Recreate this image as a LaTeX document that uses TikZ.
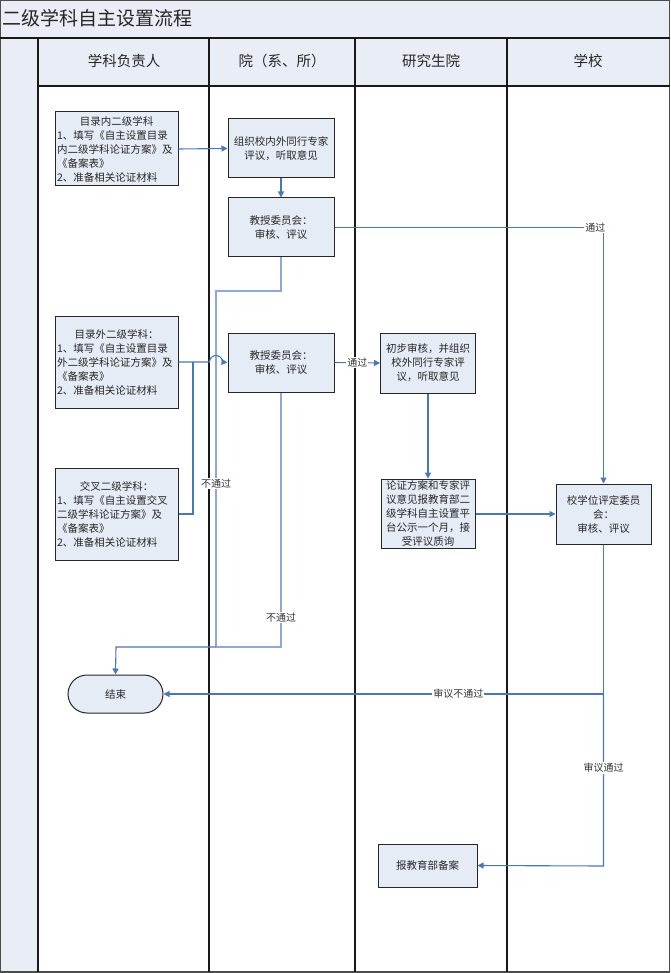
\documentclass[tikz,border=0pt]{standalone}
\usepackage{fontspec}
\newfontfamily\cjk{Noto Sans CJK SC}
\usetikzlibrary{arrows.meta}
\definecolor{boxfill}{HTML}{E6ECF6}
\definecolor{bandfill}{HTML}{E8EDF6}
\definecolor{conn}{HTML}{4A77B8}
\definecolor{connlight}{HTML}{8AAAD9}
\tikzset{
  pbox/.style={draw=black!85, fill=boxfill, line width=1pt, inner sep=2pt,
    font=\cjk\fontsize{10.5}{14}\selectfont, text=black!85, align=center},
  lbox/.style={pbox, align=left, text width=119pt},
  lanetext/.style={font=\cjk\fontsize{14.5}{16}\selectfont, text=black!85},
  lbl/.style={font=\cjk\fontsize{10}{12}\selectfont, fill=white, inner sep=1pt, text=black!80},
  cline/.style={draw=conn, line width=1.1pt},
  lline/.style={draw=connlight, line width=1.1pt},
  arr/.style={-{Triangle[length=6pt,width=6pt]}},
  laneline/.style={draw=black!90, line width=1.3pt}
}
\begin{document}
\begin{tikzpicture}[x=1pt,y=-1pt]
\useasboundingbox (0,0) rectangle (670,973);
% bands
\fill[bandfill] (0,0) rectangle (670,38);
\fill[bandfill] (0,38) rectangle (670,86);
\fill[bandfill] (0,86) rectangle (38,972);
\node[anchor=west, font=\cjk\fontsize{19}{22}\selectfont, text=black!85, inner sep=1pt] (title) at (1,18) {二级学科自主设置流程};
% frame
\draw[draw=black!70, line width=1.2pt] (0.6,0.6) rectangle (669.4,972);
\draw[laneline] (0,38) -- (670,38);
\draw[laneline] (38,86) -- (670,86);
\foreach \xx in {38,209,355,507} { \draw[laneline] (\xx,38) -- (\xx,972); }
% headers
\node[lanetext] (h1) at (124,61) {学科负责人};
\node[lanetext] (h2) at (282,61) {院（系、所）};
\node[lanetext] (h3) at (431,61) {研究生院};
\node[lanetext] (h4) at (588,61) {学校};
% boxes
\node[lbox, minimum width=123pt, minimum height=74pt] (A) at (116.5,149) {\makebox[\hsize]{目录内二级学科}\\1、填写《自主设置目录\\内二级学科论证方案》及\\《备案表》\\2、准备相关论证材料};
\node[pbox, minimum width=106pt, minimum height=59pt] (B) at (281,148.5) {组织校内外同行专家\\评议，听取意见};
\node[pbox, minimum width=106pt, minimum height=59pt] (C) at (281,227.5) {教授委员会：\\审核、评议};
\node[lbox, minimum width=123pt, minimum height=92pt] (D) at (116.5,362) {\makebox[\hsize]{目录外二级学科：}\\1、填写《自主设置目录\\外二级学科论证方案》及\\《备案表》\\2、准备相关论证材料};
\node[lbox, minimum width=123pt, minimum height=92pt] (E) at (116.5,514) {\makebox[\hsize]{交叉二级学科：}\\1、填写《自主设置交叉\\二级学科论证方案》及\\《备案表》\\2、准备相关论证材料};
\node[pbox, minimum width=106pt, minimum height=59pt] (F) at (281,362.5) {教授委员会：\\审核、评议};
\node[pbox, minimum width=95pt, minimum height=60pt] (G) at (428,363) {初步审核，并组织\\校外同行专家评\\议，听取意见};
\node[pbox, minimum width=94pt, minimum height=61pt] (I) at (428,514) {论证方案和专家评\\议意见报教育部二\\级学科自主设置平\\台公示一个月，接\\受评议质询};
\node[pbox, minimum width=95pt, minimum height=60pt] (H) at (603.5,514) {校学位评定委员\\会：\\审核、评议};
\node[pbox, minimum width=99pt, minimum height=43pt] (J) at (427.5,865.5) {报教育部备案};
\node[pbox, minimum width=95pt, minimum height=38pt, rounded corners=19pt] (End) at (115.5,694) {结束};
% coordinates
\coordinate (c1) at (281,291);
\coordinate (c2) at (216,291);
\coordinate (c3) at (216,647);
\coordinate (c4) at (281,647);
\coordinate (c5) at (116,647);
\coordinate (c6) at (603.5,227.5);
\coordinate (c7) at (603.5,694);
\coordinate (c8) at (603.5,866);
\coordinate (hopL) at (209.5,362);
\coordinate (jn) at (193,362);
% connectors
\draw[cline, arr] (A.east) -- (B.west);
\draw[cline, arr] (B.south) -- (C.north);
\draw[lline] (C.south) -- (c1) -- (c2) -- (c3)
  node[lbl, pos=0.54] (l1) {不通过};
\draw[lline] (F.south) -- (c4) node[lbl, pos=0.883] (l2) {不通过} -- (c3);
\draw[cline, arr] (c3) -- (c5) -- (End.north);
\draw[cline, arr] (D.east) -- (hopL) arc[start angle=180, end angle=360, radius=6.5] -- (F.west);
\draw[cline] (E.east) -| (jn);
\draw[cline, arr] (F.east) -- node[lbl] (l3) {通过} (G.west);
\draw[cline, arr] (C.east) -- (c6) node[lbl, pos=0.97] (l4) {通过} -- (H.north);
\draw[cline, arr] (G.south) -- (I.north);
\draw[cline, arr] (I.east) -- (H.west);
\draw[cline, arr] (H.south) -- (c7) -- node[lbl, pos=0.33] (l5) {审议不通过} (End.east);
\draw[cline, arr] (c7) -- node[lbl, pos=0.43] (l6) {审议通过} (c8) -- (J.east);
\end{tikzpicture}
\end{document}
